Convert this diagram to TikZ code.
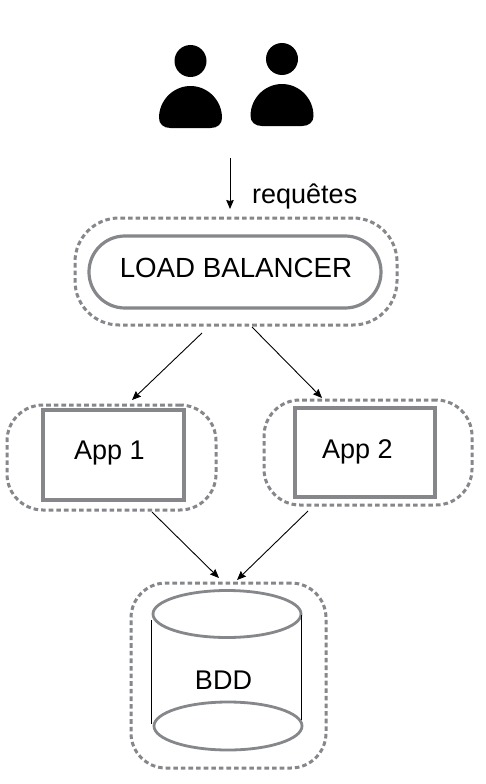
\documentclass[tikz,border=0pt]{standalone}
\usepackage{fontspec}
\setmainfont{Liberation Sans}
\usetikzlibrary{arrows.meta,shapes.geometric}
\definecolor{edgegray}{HTML}{85878A}
\tikzset{
  x=1pt,y=-1pt,
  labeltext/.style={font=\fontsize{27}{30}\selectfont,text=black,inner sep=0pt},
  dashedbox/.style={draw=edgegray,line width=3pt,dash pattern=on 4.6pt off 3pt,rounded corners=#1,inner sep=0pt,anchor=center},
  dashedbox/.default=36pt,
  solidbox/.style={draw=edgegray,line width=3.2pt,inner sep=0pt,anchor=center},
  dbcap/.style={ellipse,draw=edgegray,line width=2.8pt,inner sep=0pt,anchor=center,minimum width=148pt,minimum height=47pt},
  conn/.style={draw=black,line width=0.9pt,-{Stealth[length=9pt,width=7.5pt,inset=1pt]}},
  dbside/.style={draw=black,line width=1pt},
  person/.pic={
    \fill[black] (0,-31) circle[radius=16];
    \fill[black] (-20,36) -- (20,36)
      .. controls (27,36) and (31.5,32) .. (31.5,26)
      .. controls (31.5,8) and (17,-6) .. (0,-6)
      .. controls (-17,-6) and (-31.5,8) .. (-31.5,26)
      .. controls (-31.5,32) and (-27,36) .. (-20,36) -- cycle;
  }
}
\begin{document}
\begin{tikzpicture}
\useasboundingbox (0,0) rectangle (486,784);
\fill[white] (0,0) rectangle (486,784);
% users
\pic at (190.5,92) {person};
\pic at (282,90) {person};
% load balancer
\node[dashedbox=44pt,minimum width=322pt,minimum height=107pt] (lbouter) at (236,271.5) {};
\node[solidbox,rounded corners=35.9pt,minimum width=292pt,minimum height=72pt] (lb) at (235,272) {};
\node[labeltext,font=\fontsize{27.7}{30}\selectfont] (lblabel) at (236,268) {LOAD BALANCER};
% apps
\node[dashedbox=36pt,minimum width=209pt,minimum height=105pt] (app1outer) at (111.5,457.5) {};
\node[solidbox,minimum width=141pt,minimum height=90pt] (app1) at (113.5,455) {};
\node[labeltext] (app1label) at (109.5,453) {App 1};
\node[dashedbox=36pt,minimum width=208pt,minimum height=105pt] (app2outer) at (368,452.5) {};
\node[solidbox,minimum width=140pt,minimum height=89pt] (app2) at (365,452.5) {};
\node[labeltext] (app2label) at (357.5,452) {App 2};
% database
\node[dashedbox=35pt,minimum width=195pt,minimum height=185pt] (dbouter) at (228.5,675.5) {};
\node[dbcap] (dbtop) at (227,614) {};
\node[dbcap,minimum height=48pt] (dbbottom) at (228,726) {};
\node[labeltext] (dblabel) at (223.5,680) {BDD};
\coordinate (dblt) at (151.5,620);
\coordinate (dblb) at (151.5,724);
\coordinate (dbrt) at (301.5,615);
\coordinate (dbrb) at (301.5,720);
\draw[dbside] (dblt) -- (dblb);
\draw[dbside] (dbrt) -- (dbrb);
% requests
\node[labeltext,anchor=base west] (req) at (252,203) {requêtes};
\coordinate (reqstart) at (230,158);
\coordinate (reqend) at (230,209);
\draw[conn] (reqstart) -- (reqend);
% connectors
\coordinate (lbl) at (202,333);
\coordinate (lbr) at (252,327);
\coordinate (a1in) at (132,400);
\coordinate (a2in) at (322,398);
\coordinate (a1out) at (152,512);
\coordinate (a2out) at (308,511);
\coordinate (dbinl) at (219,578);
\coordinate (dbinr) at (237,580);
\draw[conn] (lbl) -- (a1in);
\draw[conn] (lbr) -- (a2in);
\draw[conn] (a1out) -- (dbinl);
\draw[conn] (a2out) -- (dbinr);
\end{tikzpicture}
\end{document}
